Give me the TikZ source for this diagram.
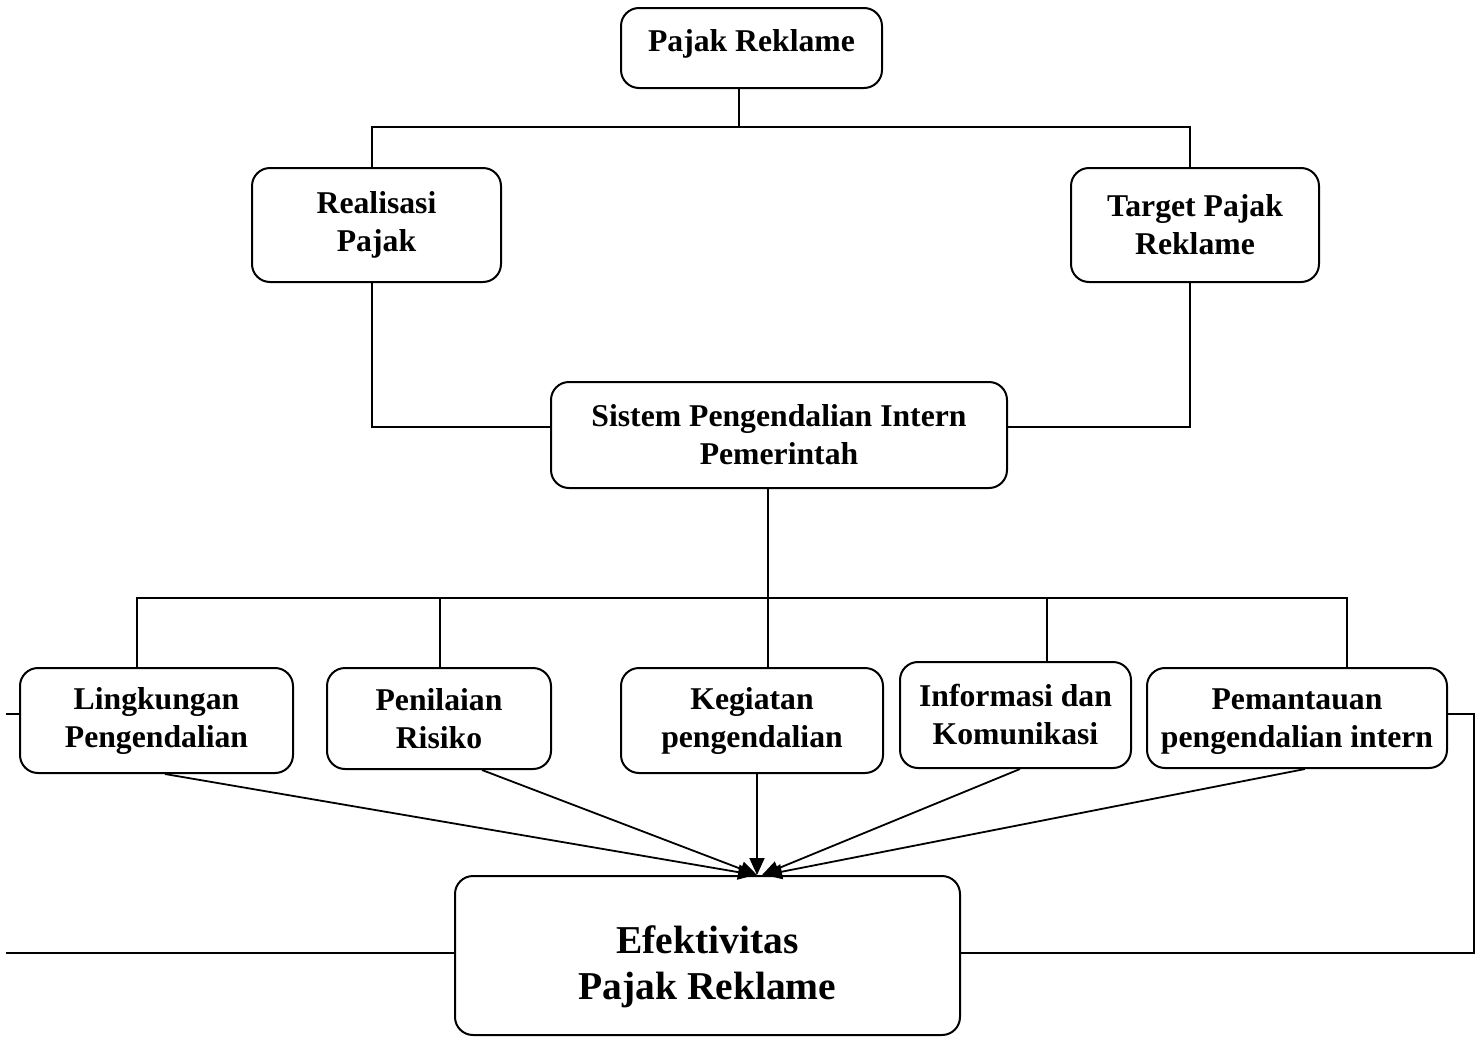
\documentclass[tikz,border=0pt]{standalone}
\usepackage{fontspec}
\setmainfont{Liberation Serif}
\usetikzlibrary{arrows.meta,calc}
\begin{document}
\begin{tikzpicture}[x=1pt,y=-1pt,
  box/.style={draw,line width=2pt,rounded corners=18pt,align=center,inner sep=0pt,
    font=\fontsize{31.7}{38}\selectfont\bfseries},
  txt/.style={align=center,inner sep=0pt,font=\fontsize{31.7}{38}\selectfont\bfseries},
  bigtxt/.style={txt,font=\fontsize{39.5}{46}\selectfont\bfseries},
  conn/.style={line width=1.8pt},
  arr/.style={line width=1.8pt,-{Triangle[length=17pt,width=15pt]}}]
\useasboundingbox (0,0) rectangle (1483,1039);
\node[box,minimum width=261pt,minimum height=80pt] (pr) at (751.5,48) {};
\node[txt] (prt) at (751.5,44) {Pajak Reklame};
\node[box,minimum width=249pt,minimum height=114pt] (real) at (376.5,225) {Realisasi\\Pajak};
\node[box,minimum width=248pt,minimum height=114pt] (targ) at (1195,225) {Target Pajak\\Reklame};
\node[box,minimum width=456pt,minimum height=106pt] (spip) at (779,435) {Sistem Pengendalian Intern\\Pemerintah};
\node[box,minimum width=273pt,minimum height=105pt] (ling) at (156.5,720.5) {Lingkungan\\Pengendalian};
\node[box,minimum width=224pt,minimum height=101pt] (pen) at (439,718.5) {Penilaian\\Risiko};
\node[box,minimum width=262pt,minimum height=105pt] (keg) at (752,720.5) {Kegiatan\\pengendalian};
\node[box,minimum width=231pt,minimum height=106pt] (info) at (1015.5,715) {Informasi dan\\Komunikasi};
\node[box,minimum width=300pt,minimum height=100pt] (pem) at (1297,718) {};
\node[txt] (pemt) at (1297,722) {Pemantauan\\pengendalian intern};
\node[box,minimum width=505pt,minimum height=159pt] (efek) at (707.5,955.5) {};
\node[bigtxt] (efekt) at (707.5,967) {Efektivitas\\Pajak Reklame};
% top tree
\draw[conn] (739,0 |- pr.south) -- (739,127);
\draw[conn] (372,0 |- real.north) -- (372,127) -- (1190,127) -- (1190,0 |- targ.north);
\draw[conn] (372,0 |- real.south) -- (372,427) -- (spip.west |- 0,427);
\draw[conn] (1190,0 |- targ.south) -- (1190,427) -- (spip.east |- 0,427);
% second tree
\draw[conn] (768,0 |- spip.south) -- (768,598);
\draw[conn] (137,0 |- ling.north) -- (137,598) -- (1347,598) -- (1347,0 |- pem.north);
\draw[conn] (440,598) -- (440,0 |- pen.north);
\draw[conn] (768,598) -- (768,0 |- keg.north);
\draw[conn] (1047,598) -- (1047,0 |- info.north);
% arrows
\draw[arr] (165,0 |- ling.south) -- (755,0 |- efek.north);
\draw[arr] (482,0 |- pen.south) -- (757,0 |- efek.north);
\draw[arr] (757,0 |- keg.south) -- (757,0 |- efek.north);
\draw[arr] (1020,0 |- info.south) -- (762,0 |- efek.north);
\draw[arr] (1305,0 |- pem.south) -- (765,0 |- efek.north);
% side lines
\coordinate (ls1) at (6,714);
\coordinate (ls2) at (6,953);
\coordinate (rc1) at (1474,714);
\coordinate (rc2) at (1474,953);
\draw[conn] (ls1) -- (ling.west |- ls1);
\draw[conn] (ls2) -- (efek.west |- ls2);
\draw[conn] (pem.east |- rc1) -- (rc1) -- (rc2) -- (efek.east |- rc2);
\end{tikzpicture}
\end{document}
